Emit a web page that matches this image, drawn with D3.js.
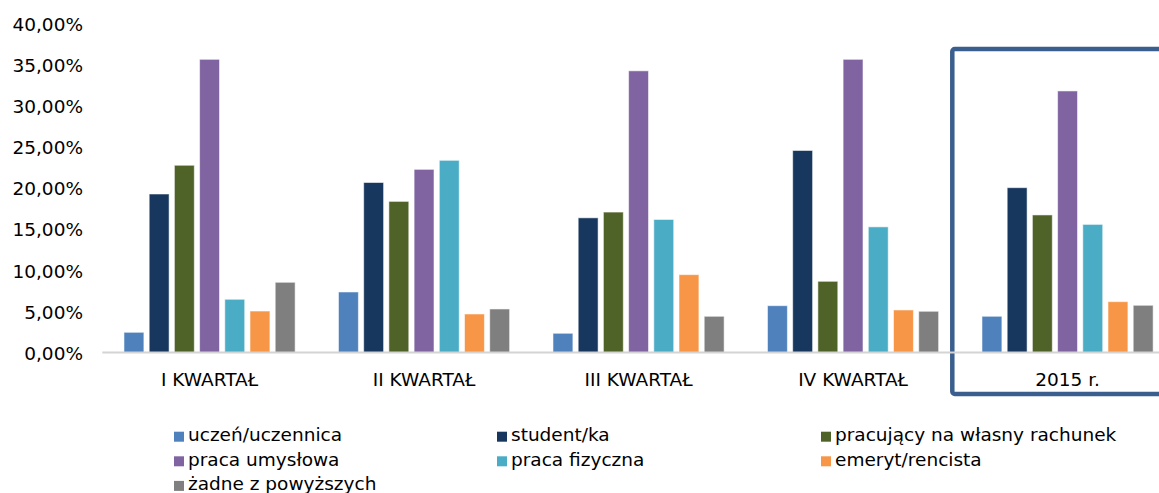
<!DOCTYPE html>
<html lang="pl">
<head>
<meta charset="utf-8">
<script src="https://cdn.jsdelivr.net/npm/d3@7/dist/d3.min.js"></script>
<style>
  html, body { margin: 0; padding: 0; background: #fff; }
  svg { display: block; font-family: "DejaVu Sans", Verdana, sans-serif; }
</style>
</head>
<body>
<svg id="chart" width="1159" height="493"></svg>
<script>
// Categories (quarters of 2015 and the full year)
const categories = ["I KWARTAŁ", "II KWARTAŁ", "III KWARTAŁ", "IV KWARTAŁ", "2015 r."];

// Series names and colours
const seriesNames = [
  "uczeń/uczennica",
  "student/ka",
  "pracujący na własny rachunek",
  "praca umysłowa",
  "praca fizyczna",
  "emeryt/rencista",
  "żadne z powyższych"
];
const seriesColors = ["#4F81BD", "#17375E", "#4F6228", "#8064A2", "#4BACC6", "#F79646", "#7F7F7F"];

// Shares (%) per series, one value per category
const uczen      = [2.46, 7.37, 2.34, 5.70, 4.41];
const student    = [19.30, 20.70, 16.40, 24.60, 20.07];
const wlasny     = [22.80, 18.40, 17.10, 8.67, 16.75];
const umyslowa   = [35.70, 22.30, 34.30, 35.70, 31.85];
const fizyczna   = [6.48, 23.40, 16.20, 15.30, 15.60];
const emeryt     = [5.05, 4.69, 9.48, 5.18, 6.19];
const zadne      = [8.55, 5.30, 4.41, 5.02, 5.75];
const seriesValues = [uczen, student, wlasny, umyslowa, fizyczna, emeryt, zadne];

// Y axis ticks (%)
const yTicks = [0, 5, 10, 15, 20, 25, 30, 35, 40];

const svg = d3.select("#chart");
const FONT = 18.5;

// Layout
const plotLeft = 102.3;
const bandW = 214.5;
const yBottom = 352.5;
const yTop = 24;

const x = d3.scaleBand()
  .domain(categories)
  .range([plotLeft, plotLeft + bandW * categories.length])
  .paddingInner(0)
  .paddingOuter(0);

const xInner = d3.scaleBand()
  .domain(d3.range(seriesNames.length))
  .range([0, x.bandwidth()])
  .paddingInner(0.21)
  .paddingOuter(0.86);

const y = d3.scaleLinear().domain([0, 40]).range([yBottom, yTop]);

// Highlight frame around the yearly group
const frame = {
  x: x("2015 r.") - 8,
  y: 49,
  w: x.bandwidth() + 40,
  h: 345
};
svg.append("rect")
  .attr("x", frame.x).attr("y", frame.y)
  .attr("width", frame.w).attr("height", frame.h)
  .attr("rx", 2.5)
  .attr("fill", "none")
  .attr("stroke", "#3A5F8E")
  .attr("stroke-width", 4.5);

// Bars
const groups = svg.append("g").selectAll("g")
  .data(categories)
  .join("g")
  .attr("transform", d => `translate(${x(d)},0)`);

groups.selectAll("rect")
  .data((c, ci) => seriesValues.map((vals, si) => ({ si, v: vals[ci] })))
  .join("rect")
  .attr("x", d => xInner(d.si))
  .attr("width", xInner.bandwidth())
  .attr("y", d => y(d.v))
  .attr("height", d => y(0) - y(d.v))
  .attr("fill", d => seriesColors[d.si])
  .attr("stroke", "#ffffff")
  .attr("stroke-opacity", 0.55)
  .attr("stroke-width", 1);

// X axis baseline
svg.append("line")
  .attr("x1", plotLeft).attr("x2", x.range()[1])
  .attr("y1", yBottom).attr("y2", yBottom)
  .attr("stroke", "#D4D4D4")
  .attr("stroke-width", 2);

// Category labels
const xAxis = d3.axisBottom(x).tickSize(0).tickPadding(0);
const gx = svg.append("g")
  .attr("transform", `translate(0,${yBottom})`)
  .call(xAxis);
gx.select(".domain").remove();
gx.selectAll("text")
  .attr("y", 33.5)
  .attr("dy", null)
  .attr("fill", "#000")
  .style("font-size", FONT + "px")
  .style("font-family", "'DejaVu Sans', Verdana, sans-serif");

// Y axis labels
const fmt = v => v.toFixed(2).replace(".", ",") + "%";
const yAxis = d3.axisLeft(y).tickValues(yTicks).tickFormat(fmt).tickSize(0).tickPadding(0);
const gy = svg.append("g")
  .attr("transform", "translate(83,0)")
  .call(yAxis);
gy.select(".domain").remove();
gy.selectAll("text")
  .attr("dy", "0.36em")
  .attr("fill", "#000")
  .style("font-size", FONT + "px")
  .style("font-family", "'DejaVu Sans', Verdana, sans-serif");

// Legend (3 columns)
const legendCols = [174, 497, 821];
const legendRow0 = 436.7;
const legendRowStep = 24.6;
const legend = svg.append("g").selectAll("g")
  .data(seriesNames)
  .join("g")
  .attr("transform", (d, i) =>
    `translate(${legendCols[i % 3]},${legendRow0 + Math.floor(i / 3) * legendRowStep})`);

legend.append("rect")
  .attr("x", 0).attr("y", -5)
  .attr("width", 10).attr("height", 10)
  .attr("fill", (d, i) => seriesColors[i]);

legend.append("text")
  .attr("x", 14)
  .attr("y", 4.5)
  .attr("fill", "#000")
  .style("font-size", FONT + "px")
  .text(d => d);
</script>
</body>
</html>
